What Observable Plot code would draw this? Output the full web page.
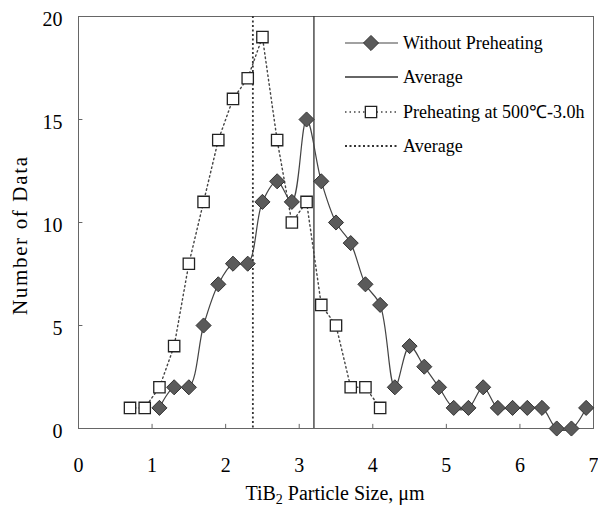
<!DOCTYPE html>
<html>
<head>
<meta charset="utf-8">
<script src="https://cdn.jsdelivr.net/npm/d3@7"></script>
<script src="https://cdn.jsdelivr.net/npm/@observablehq/plot@0.6"></script>
<style>
  html, body { margin: 0; padding: 0; background: white; }
</style>
</head>
<body>
<div id="chart"></div>
<script>
// ---- data ----
const withoutX = [1.1,1.3,1.5,1.7,1.9,2.1,2.3,2.5,2.7,2.9,3.1,3.3,3.5,3.7,3.9,4.1,4.3,4.5,4.7,4.9,5.1,5.3,5.5,5.7,5.9,6.1,6.3,6.5,6.7,6.9];
const withoutY = [1,2,2,5,7,8,8,11,12,11,15,12,10,9,7,6,2,4,3,2,1,1,2,1,1,1,1,0,0,1];
const preX = [0.7,0.9,1.1,1.3,1.5,1.7,1.9,2.1,2.3,2.5,2.7,2.9,3.1,3.3,3.5,3.7,3.9,4.1];
const preY = [1,1,2,4,8,11,14,16,17,19,14,10,11,6,5,2,2,1];
const avgWithout = [3.2];
const avgPre = [2.37];
const xTicks = [0,1,2,3,4,5,6,7];
const yTicks = [0,5,10,15,20];
const legendLabels = ["Without Preheating", "Average", "Preheating at 500\u2103-3.0h", "Average"];
const xTitle = ["TiB", "2", " Particle Size, \u03bcm"];
const yTitle = "Number of Data";

const without = withoutX.map((x, i) => ({x, y: withoutY[i]}));
const pre = preX.map((x, i) => ({x, y: preY[i]}));

const font = "'Liberation Serif', 'Times New Roman', serif";

const plot = Plot.plot({
  width: 598,
  height: 506,
  marginLeft: 78,
  marginRight: 5,
  marginTop: 16,
  marginBottom: 78,
  style: {fontFamily: font, fontSize: "20px", background: "white", color: "black", overflow: "visible"},
  x: {domain: [0, 7]},
  y: {domain: [0, 20]},
  marks: [
    Plot.frame({stroke: "#666", strokeWidth: 1}),
    Plot.axisX({ticks: xTicks, tickSize: 0, tickPadding: 29, tickFormat: d => d, label: null, fontSize: 20}),
    Plot.axisY({ticks: yTicks, tickSize: 0, tickPadding: 16, dy: 3, tickFormat: d => d, label: null, fontSize: 20}),
    Plot.ruleX(xTicks.slice(1, -1), {x: d => d, y1: 0, y2: 0.2, stroke: "#666", strokeWidth: 1}),
    Plot.ruleY(yTicks.slice(1, -1), {y: d => d, x1: 0, x2: 0.06, stroke: "#666", strokeWidth: 1}),
    Plot.ruleX(avgPre, {x: d => d, stroke: "#333", strokeWidth: 1.8, strokeDasharray: "2,2.5"}),
    Plot.ruleX(avgWithout, {x: d => d, stroke: "#333", strokeWidth: 1.3}),
    Plot.line(pre, {x: "x", y: "y", stroke: "#444", strokeWidth: 1.4, strokeDasharray: "1.5,3"}),
    Plot.line(without, {x: "x", y: "y", stroke: "#444", strokeWidth: 1.2, curve: "catmull-rom"}),
    Plot.dot(pre, {x: "x", y: "y", symbol: "square", r: 6.4, fill: "white", stroke: "#222", strokeWidth: 1.3}),
    Plot.dot(without, {x: "x", y: "y", symbol: "diamond2", r: 6.8, fill: "#5a5a5a", stroke: "#333", strokeWidth: 1})
  ]
});

document.getElementById("chart").appendChild(plot);

// ---- axis titles ----
const svg = d3.select(plot);
const xt = svg.append("text")
  .attr("x", 335).attr("y", 500)
  .attr("text-anchor", "middle")
  .attr("font-family", font).attr("font-size", 20).attr("fill", "black");
xt.append("tspan").text(xTitle[0]);
xt.append("tspan").attr("font-size", 14).attr("dy", 4).text(xTitle[1]);
xt.append("tspan").attr("dy", -4).text(xTitle[2]);

svg.append("text")
  .attr("transform", "translate(27,236) rotate(-90)")
  .attr("text-anchor", "middle")
  .attr("font-family", font).attr("font-size", 21).attr("fill", "black")
  .attr("textLength", 158).attr("lengthAdjust", "spacing")
  .text(yTitle);

// ---- legend ----
const lg = svg.append("g").attr("font-family", font).attr("font-size", 18).attr("fill", "black").attr("text-anchor", "start");
const rows = [43, 77, 112, 146];
const x0 = 345, x1 = 398, xm = 371, xText = 403;
// row 1: solid line + diamond
lg.append("line").attr("x1", x0).attr("x2", x1).attr("y1", rows[0]).attr("y2", rows[0]).attr("stroke", "#444").attr("stroke-width", 1.2);
lg.append("path").attr("transform", `translate(${xm},${rows[0]})`)
  .attr("d", d3.symbol(d3.symbolDiamond2, Math.PI * 6.8 * 6.8)()).attr("fill", "#5a5a5a").attr("stroke", "#333");
// row 2: solid average
lg.append("line").attr("x1", x0).attr("x2", x1).attr("y1", rows[1]).attr("y2", rows[1]).attr("stroke", "#333").attr("stroke-width", 1.3);
// row 3: dotted line + square
lg.append("line").attr("x1", x0).attr("x2", x1).attr("y1", rows[2]).attr("y2", rows[2]).attr("stroke", "#444").attr("stroke-width", 1.4).attr("stroke-dasharray", "1.5,3");
lg.append("path").attr("transform", `translate(${xm},${rows[2]})`)
  .attr("d", d3.symbol(d3.symbolSquare, Math.PI * 6.4 * 6.4)()).attr("fill", "white").attr("stroke", "#222").attr("stroke-width", 1.3);
// row 4: dotted average
lg.append("line").attr("x1", x0).attr("x2", x1).attr("y1", rows[3]).attr("y2", rows[3]).attr("stroke", "#333").attr("stroke-width", 1.8).attr("stroke-dasharray", "2,2.5");
legendLabels.forEach((t, i) => {
  lg.append("text").attr("x", xText).attr("y", rows[i] + 6).attr("text-anchor", "start").text(t);
});
</script>
</body>
</html>
